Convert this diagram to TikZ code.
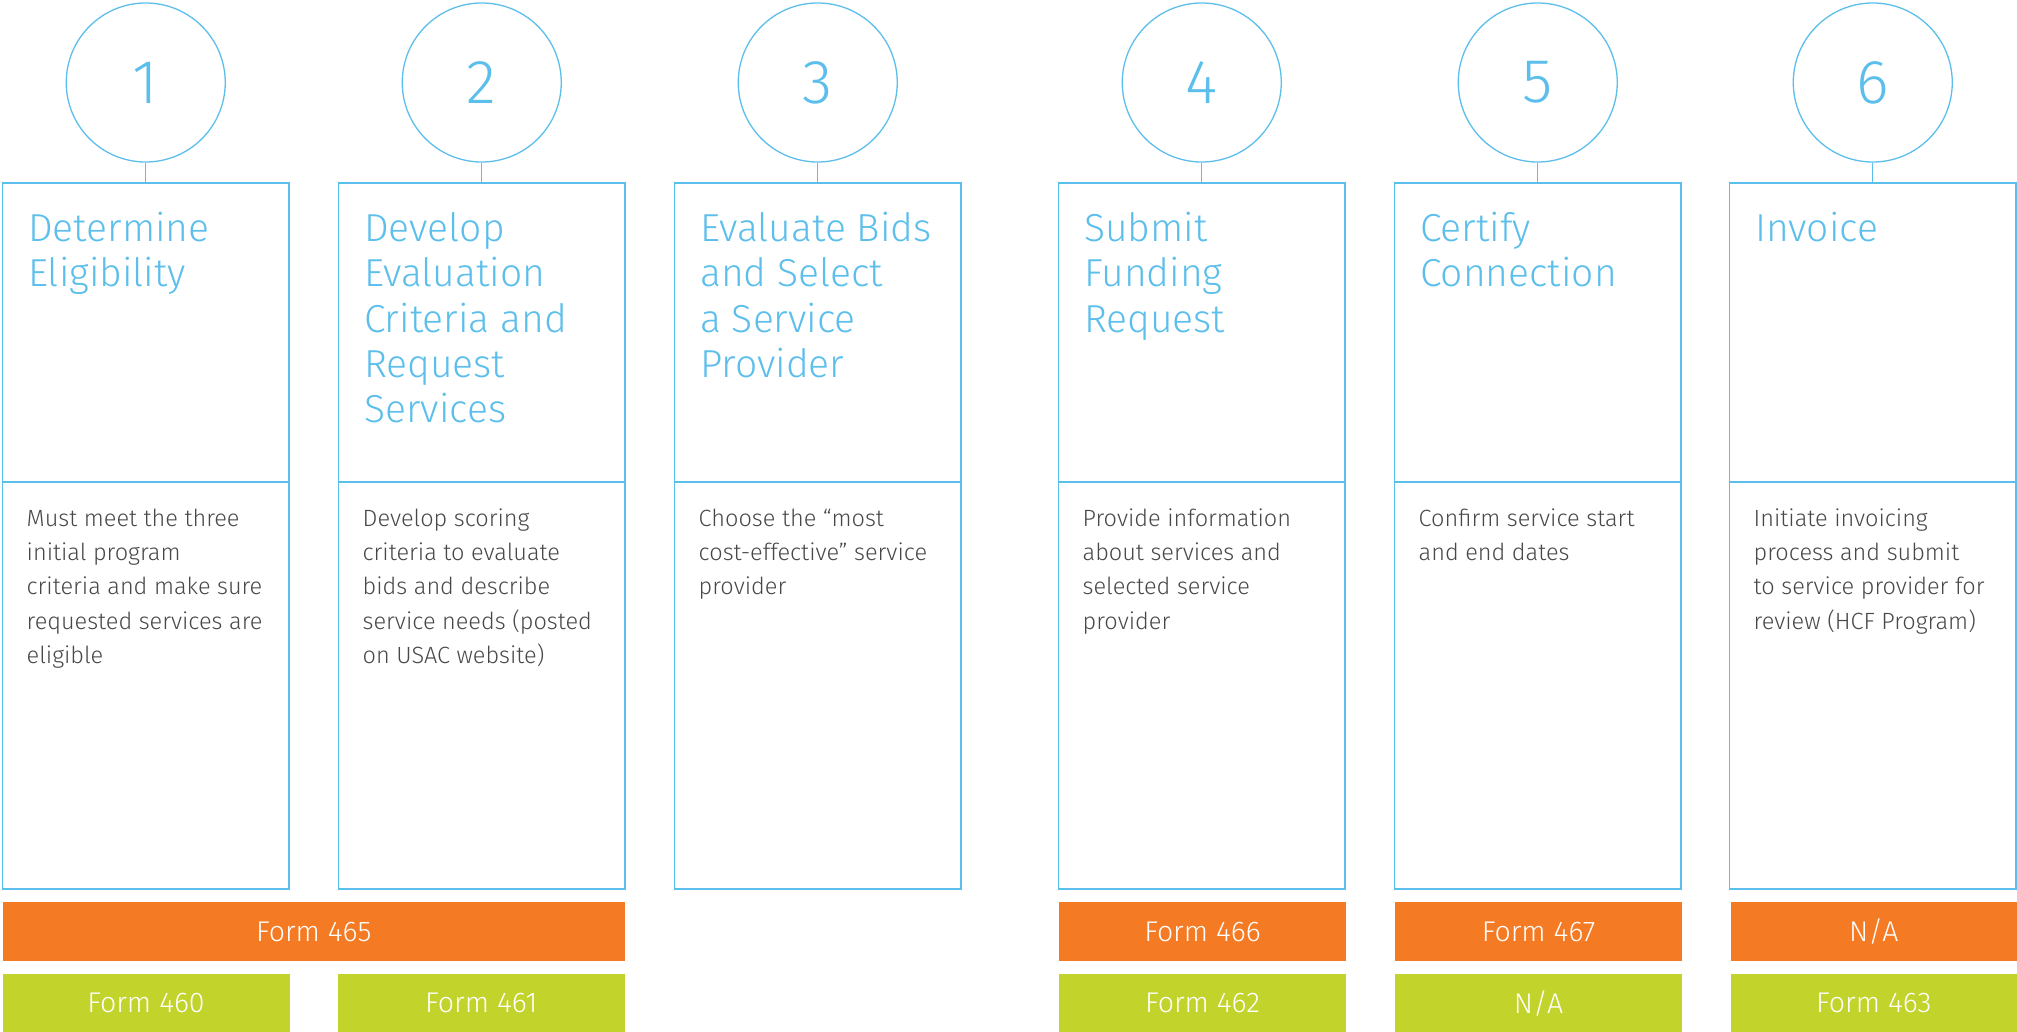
\documentclass[tikz,border=0pt]{standalone}
\usepackage{fontspec}
\setmainfont{Fira Sans Light}
\definecolor{sblue}{RGB}{91,190,235}
\definecolor{sorange}{RGB}{244,122,35}
\definecolor{sgreen}{RGB}{194,211,43}
\definecolor{sgray}{RGB}{72,72,72}
\tikzset{
  stepcircle/.style={circle, draw=sblue, line width=1.3pt, minimum size=159pt, inner sep=0pt, text=sblue, font=\fontsize{62}{62}\selectfont},
  stepbox/.style={draw=sblue, line width=1.7pt, minimum width=286.5pt, minimum height=706pt, inner sep=0pt},
  stepline/.style={draw=sblue, line width=1.3pt},
  divline/.style={draw=sblue, line width=1.7pt},
  steptitle/.style={anchor=base west, align=left, inner sep=0pt, text=sblue, font=\fontsize{39}{45.2}\selectfont},
  stepbody/.style={anchor=base west, align=left, inner sep=0pt, text=sgray, font=\fontsize{23.5}{34.4}\selectfont},
  orangebar/.style={fill=sorange, text=white, inner sep=0pt, minimum height=58.4pt, font=\fontsize{28.5}{28.5}\selectfont},
  greenbar/.style={fill=sgreen, text=white, inner sep=0pt, minimum height=59pt, font=\fontsize{28.5}{28.5}\selectfont},
}
\begin{document}
\begin{tikzpicture}[x=1pt,y=-1pt]
\useasboundingbox (0,0) rectangle (2017,1032);
% circles
\node[stepcircle] (c1) at (145.75,82.5) {1};
\node[stepcircle] (c2) at (481.75,82.5) {2};
\node[stepcircle] (c3) at (817.75,82.5) {3};
\node[stepcircle] (c4) at (1201.75,82.5) {4};
\node[stepcircle] (c5) at (1537.75,82.5) {5};
\node[stepcircle] (c6) at (1872.75,82.5) {6};
% boxes
\node[stepbox] (b1) at (145.75,535.7) {};
\node[stepbox] (b2) at (481.75,535.7) {};
\node[stepbox] (b3) at (817.75,535.7) {};
\node[stepbox] (b4) at (1201.75,535.7) {};
\node[stepbox] (b5) at (1537.75,535.7) {};
\node[stepbox] (b6) at (1872.75,535.7) {};
% connectors and dividers
\foreach \i in {1,...,6}{
  \draw[stepline] (c\i.south) -- (b\i.north);
  \draw[divline] (b\i.west |- 0,482.3) -- (b\i.east |- 0,482.3);
}
% titles (anchor = baseline of last line)
\node[steptitle] (t1) at (28,286.9) {Determine\\Eligibility};
\node[steptitle] (t2) at (364,422.5) {Develop\\Evaluation\\Criteria and\\Request\\Services};
\node[steptitle] (t3) at (700,377.3) {Evaluate Bids\\and Select\\a Service\\Provider};
\node[steptitle] (t4) at (1084,332.1) {Submit\\Funding\\Request};
\node[steptitle] (t5) at (1420,286.9) {Certify\\Connection};
\node[steptitle] (t6) at (1755,241.7) {Invoice};
% bodies (anchor = baseline of last line)
\node[stepbody] (d1) at (26.5,663.6) {Must meet the three\\initial program\\criteria and make sure\\requested services are\\eligible};
\node[stepbody] (d2) at (362.5,663.6) {Develop scoring\\criteria to evaluate\\bids and describe\\service needs (posted\\on USAC website)};
\node[stepbody] (d3) at (698.5,594.8) {Choose the “most\\cost-effective” service\\provider};
\node[stepbody] (d4) at (1082.5,629.2) {Provide information\\about services and\\selected service\\provider};
\node[stepbody] (d5) at (1418.5,560.4) {Confirm service start\\and end dates};
\node[stepbody] (d6) at (1753.5,629.2) {Initiate invoicing\\process and submit\\to service provider for\\review (HCF Program)};
% orange bars
\node[orangebar, minimum width=622.5pt] (o12) at (313.75,931.5) {Form 465};
\node[orangebar, minimum width=286.5pt] (o4) at (1202.5,931.5) {Form 466};
\node[orangebar, minimum width=286.5pt] (o5) at (1538.5,931.5) {Form 467};
\node[orangebar, minimum width=286.5pt] (o6) at (1873.75,931.5) {N/A};
% green bars
\node[greenbar, minimum width=287pt] (g1) at (146,1003) {Form 460};
\node[greenbar, minimum width=287.5pt] (g2) at (481.25,1003) {Form 461};
\node[greenbar, minimum width=286.5pt] (g4) at (1202.5,1003) {Form 462};
\node[greenbar, minimum width=286.5pt] (g5) at (1538.5,1003) {N/A};
\node[greenbar, minimum width=286.5pt] (g6) at (1873.75,1003) {Form 463};
\end{tikzpicture}
\end{document}
